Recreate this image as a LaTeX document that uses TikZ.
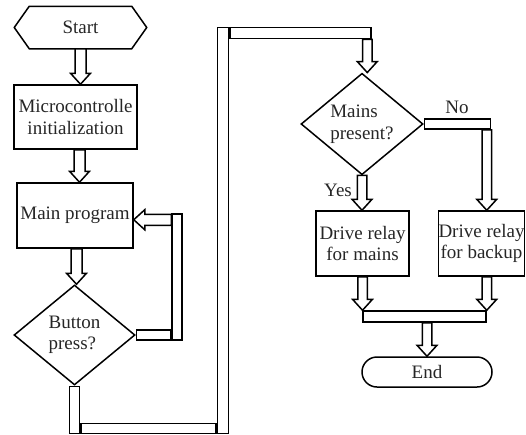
\documentclass[tikz,border=0pt]{standalone}
\usepackage{fontspec}
\setmainfont{Liberation Serif}
\usetikzlibrary{calc,shapes.geometric}
\def\pSW{5.5}\def\pHW{10}\def\pHL{11}
\newcommand\pipedown[2]{%
  \draw[pipe] ($(#1)+(-\pSW,0)$) -- ($(#1|-#2)+(-\pSW,-\pHL)$) -- ($(#1|-#2)+(-\pHW,-\pHL)$)
    -- (#1|-#2) -- ($(#1|-#2)+(\pHW,-\pHL)$) -- ($(#1|-#2)+(\pSW,-\pHL)$) -- ($(#1)+(\pSW,0)$) -- cycle;}
\newcommand\pipeleft[2]{%
  \draw[pipe] ($(#1)+(0,-\pSW)$) -- ($(#2|-#1)+(\pHL,-\pSW)$) -- ($(#2|-#1)+(\pHL,-\pHW)$)
    -- (#2|-#1) -- ($(#2|-#1)+(\pHL,\pHW)$) -- ($(#2|-#1)+(\pHL,\pSW)$) -- ($(#1)+(0,\pSW)$) -- cycle;}
\begin{document}
\begin{tikzpicture}[x=1pt,y=-1pt,line width=1.5pt,
  lbl/.style={font=\fontsize{19}{21.5}\selectfont, text=black!85},
  box/.style={lbl, draw, rectangle, inner sep=0pt, align=center},
  dia/.style={lbl, draw, diamond, inner sep=0pt, align=left},
  pipe/.style={draw, fill=white, line width=1.5pt},
  bar/.style={pipe, rectangle, inner sep=0pt}]
\useasboundingbox (0,0) rectangle (526,434);
% nodes
\node[lbl, minimum width=131pt, minimum height=41pt, inner sep=0pt] (start) at (80.5,27.5) {Start};
\draw (start.west) -- ($(start.north west)+(15,0)$) -- ($(start.north east)+(-15,0)$) -- (start.east)
  -- ($(start.south east)+(-15,0)$) -- ($(start.south west)+(15,0)$) -- cycle;
\node[box, minimum width=123pt, minimum height=64pt] (micro) at (75.5,117) {Microcontrolle\\initialization};
\node[box, minimum width=116pt, minimum height=65pt] (main) at (75,215.5) {Main program};
\node[dia, minimum width=121pt, minimum height=100pt] (button) at (74.5,335) {Button\\press?};
\node[dia, minimum width=122pt, minimum height=100pt] (mains) at (362,124) {Mains\\present?};
\node[box, minimum width=93pt, minimum height=65pt] (drm) at (362.5,243.5) {Drive relay\\for mains};
\node[box, minimum width=85pt, minimum height=65pt] (drb) at (481.5,243.5) {Drive relay\\for backup};
\node[box, rounded corners=15pt, minimum width=130pt, minimum height=30pt] (end) at (427,372) {End};
\node[lbl] (no) at (457,107) {No};
\node[lbl] (yes) at (338,190) {Yes};
% left column arrows
\pipedown{start.south}{micro.north}
\coordinate (a2) at ($(micro.south)+(4,0)$);
\pipedown{a2}{main.north}
\coordinate (a3) at ($(main.south)+(1.5,0)$);
\pipedown{a3}{button.north}
% loop back
\node[bar, minimum width=34pt, minimum height=10pt, anchor=west] (loopH) at (button.east) {};
\node[bar, minimum width=10pt, minimum height=126pt, anchor=south west] (loopV) at (loopH.south east) {};
\coordinate (la) at ($(loopV.north west)+(0,6.5)$);
\pipeleft{la}{main.east}
% long pipe
\node[bar, minimum width=10pt, minimum height=47pt, anchor=north] (bv1) at (button.south) {};
\node[bar, minimum width=135pt, minimum height=10pt, anchor=south west] (bh) at (bv1.south east) {};
\node[bar, minimum width=11pt, minimum height=406pt, anchor=south west] (bv2) at (bh.south east) {};
\node[bar, minimum width=141pt, minimum height=11pt, anchor=north west] (th) at (bv2.north east) {};
\def\pSW{4.75}
\coordinate (a4) at ($(th.south east)+(-4.5,0)$);
\pipedown{a4}{mains.north}
% no branch
\node[bar, minimum width=66pt, minimum height=10pt, anchor=west] (nh) at (mains.east) {};
\coordinate (a5) at ($(nh.south east)+(-4.5,0)$);
\pipedown{a5}{drb.north}
% yes branch
\pipedown{mains.south}{drm.north}
% merge
\node[bar, minimum width=123pt, minimum height=11pt] (mbar) at (424.5,316.5) {};
\pipedown{drm.south}{mbar.north}
\coordinate (a6) at (a5|-drb.south);
\pipedown{a6}{mbar.north}
\coordinate (a7) at (end.north|-mbar.south);
\pipedown{a7}{end.north}
\end{tikzpicture}
\end{document}
